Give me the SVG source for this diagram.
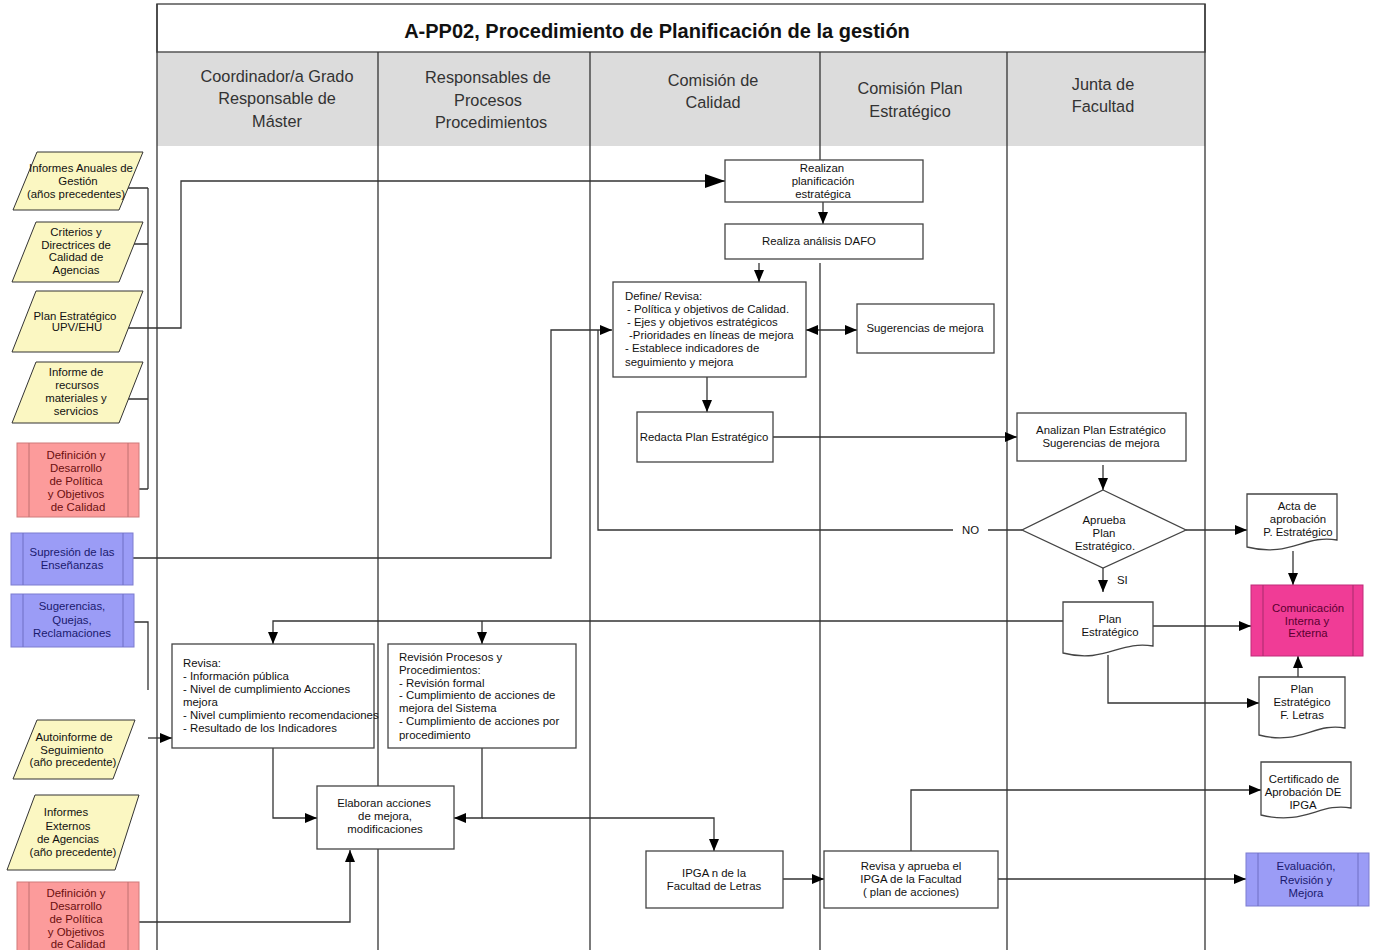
<svg xmlns="http://www.w3.org/2000/svg" width="1376" height="950" viewBox="0 0 1376 950">
  <style>
    .ln { fill: none; stroke: #333; stroke-width: 1.3; }
    .ar { fill: none; stroke: #333; stroke-width: 1.3; marker-end: url(#ah); }
    .box { fill: #fff; stroke: #444; stroke-width: 1.3; }
    .inp { fill: #fbf7c2; stroke: #333; stroke-width: 1; }
    .red { fill: #fc9b9b; stroke: #d07a7a; stroke-width: 1; }
    .blue { fill: #9b9cf6; stroke: #7c7ccf; stroke-width: 1; }
    .mag { fill: #f03c96; stroke: #c02a78; stroke-width: 1; }
    .sub { stroke-width: 1; fill: none; }
    text { font-family: "Liberation Sans", Arial, sans-serif; font-size: 11.4px; fill: #111; }
    .c { text-anchor: middle; }
    .hd { font-size: 16.3px; fill: #333; text-anchor: middle; }
    .title { font-size: 20px; font-weight: bold; fill: #111; text-anchor: middle; }
    .tr { fill: #6b0f0f; }
    .tb { fill: #1a1a6e; }
    .tm { fill: #5a0030; }
  </style>
  <defs>
    <marker id="ah" markerUnits="userSpaceOnUse" markerWidth="13" markerHeight="11" refX="12" refY="5" orient="auto-start-reverse">
      <path d="M0,0 L12,5 L0,10 z" fill="#000"/>
    </marker>
    <marker id="ahl" markerUnits="userSpaceOnUse" markerWidth="21" markerHeight="15" refX="20" refY="7" orient="auto">
      <path d="M0,0 L20,7 L0,14 z" fill="#000"/>
    </marker>
  </defs>

  <rect width="1376" height="950" fill="#fff"/>

  <!-- swimlane frame -->
  <g id="lanes">
    <rect x="157" y="52" width="1048" height="94" fill="#dcdcdc"/>
    <rect x="157" y="4" width="1048" height="48" fill="#fff" stroke="#555" stroke-width="1.5"/>
    <text class="title" x="657" y="38">A-PP02, Procedimiento de Planificación de la gestión</text>
    <g class="ln" stroke="#444">
      <line x1="157" y1="4" x2="157" y2="950"/>
      <line x1="1205" y1="4" x2="1205" y2="950"/>
      <line x1="378" y1="52" x2="378" y2="950"/>
      <line x1="590" y1="52" x2="590" y2="950"/>
      <line x1="820" y1="52" x2="820" y2="160"/>
      <line x1="820" y1="263" x2="820" y2="950"/>
      <line x1="1007" y1="52" x2="1007" y2="950"/>
    </g>
    <text class="hd" x="277" y="82">Coordinador/a Grado</text>
    <text class="hd" x="277" y="104">Responsable de</text>
    <text class="hd" x="277" y="127">Máster</text>
    <text class="hd" x="488" y="83">Responsables de</text>
    <text class="hd" x="488" y="106">Procesos</text>
    <text class="hd" x="491" y="128">Procedimientos</text>
    <text class="hd" x="713" y="86">Comisión de</text>
    <text class="hd" x="713" y="108">Calidad</text>
    <text class="hd" x="910" y="94">Comisión Plan</text>
    <text class="hd" x="910" y="117">Estratégico</text>
    <text class="hd" x="1103" y="90">Junta de</text>
    <text class="hd" x="1103" y="112">Facultad</text>
  </g>

  <!-- connectors -->
  <g id="connectors">
    <path class="ln" d="M128,188 H148 M134,244 H148 M128,399 H148 M139,489 H148 M148,188 V489"/>
    <path class="ln" d="M128,328 H181 V181 H725" marker-end="url(#ahl)"/>
    <path class="ar" d="M133,558 H551 V330 H612"/>
    <path class="ln" d="M1022,530 H988 M953,530 H598 V330"/>
    <path class="ln" d="M134,622 H148 V690"/>
    <path class="ar" d="M148,738 H172"/>
    <path class="ar" d="M139,922 H350 V850"/>
    <path class="ar" d="M823,202 V224"/>
    <path class="ar" d="M759,263 V282"/>
    <path class="ar" d="M806,330 H857" marker-start="url(#ah)"/>
    <path class="ar" d="M707,377 V412"/>
    <path class="ar" d="M773,437 H1017"/>
    <path class="ar" d="M1103,465 V490"/>
    <path class="ar" d="M1103,568 V592"/>
    <path class="ar" d="M1186,530 H1247"/>
    <path class="ar" d="M1293,551 V585"/>
    <path class="ar" d="M1153,626 H1251"/>
    <path class="ar" d="M1063,621 H273 V644"/>
    <path class="ar" d="M482,621 V644"/>
    <path class="ar" d="M1108,655 V703 H1259"/>
    <path class="ar" d="M1298,677 V656"/>
    <path class="ar" d="M273,748 V818 H317"/>
    <path class="ar" d="M482,748 V818 H454"/>
    <path class="ar" d="M482,818 H714 V851"/>
    <path class="ar" d="M783,879 H824"/>
    <path class="ar" d="M911,851 V790 H1261"/>
    <path class="ar" d="M998,879 H1246"/>
    <text x="962" y="534">NO</text>
    <text x="1117" y="584">SI</text>
  </g>

  <!-- inputs (left column) -->
  <g id="in-informes-anuales">
    <polygon class="inp" points="37,152 143,152 119,210 13,210"/>
    <text class="c" x="81" y="172">Informes Anuales de</text>
    <text class="c" x="78" y="185">Gestión</text>
    <text class="c" x="76" y="198">(años precedentes)</text>
  </g>
  <g id="in-criterios">
    <polygon class="inp" points="36,222 143,222 119,282 12,282"/>
    <text class="c" x="76" y="236">Criterios y</text>
    <text class="c" x="76" y="249">Directrices de</text>
    <text class="c" x="76" y="261">Calidad de</text>
    <text class="c" x="76" y="274">Agencias</text>
  </g>
  <g id="in-plan-upv">
    <polygon class="inp" points="36,291 143,291 119,352 12,352"/>
    <text class="c" x="75" y="320">Plan Estratégico</text>
    <text class="c" x="77" y="331">UPV/EHU</text>
  </g>
  <g id="in-recursos">
    <polygon class="inp" points="36,362 143,362 119,423 12,423"/>
    <text class="c" x="76" y="376">Informe de</text>
    <text class="c" x="77" y="389">recursos</text>
    <text class="c" x="76" y="402">materiales y</text>
    <text class="c" x="76" y="415">servicios</text>
  </g>
  <g id="in-definicion-1">
    <rect class="red" x="17" y="443" width="122" height="74"/>
    <path class="sub" stroke="#c07070" d="M29,443 V517 M128,443 V517"/>
    <text class="c tr" x="76" y="459">Definición y</text>
    <text class="c tr" x="76" y="472">Desarrollo</text>
    <text class="c tr" x="76" y="485">de Política</text>
    <text class="c tr" x="76" y="498">y Objetivos</text>
    <text class="c tr" x="78" y="511">de Calidad</text>
  </g>
  <g id="in-supresion">
    <rect class="blue" x="11" y="533" width="122" height="52"/>
    <path class="sub" stroke="#6f6fc4" d="M23,533 V585 M123,533 V585"/>
    <text class="c tb" x="72" y="556">Supresión de las</text>
    <text class="c tb" x="72" y="569">Enseñanzas</text>
  </g>
  <g id="in-sugerencias">
    <rect class="blue" x="11" y="594" width="123" height="53"/>
    <path class="sub" stroke="#6f6fc4" d="M23,594 V647 M123,594 V647"/>
    <text class="c tb" x="72" y="610">Sugerencias,</text>
    <text class="c tb" x="72" y="624">Quejas,</text>
    <text class="c tb" x="72" y="637">Reclamaciones</text>
  </g>
  <g id="in-autoinforme">
    <polygon class="inp" points="37,720 135,720 113,779 13,779"/>
    <text class="c" x="74" y="741">Autoinforme de</text>
    <text class="c" x="72" y="754">Seguimiento</text>
    <text class="c" x="73" y="766">(año precedente)</text>
  </g>
  <g id="in-externos">
    <polygon class="inp" points="35,795 139,795 115,870 7,870"/>
    <text class="c" x="66" y="816">Informes</text>
    <text class="c" x="68" y="830">Externos</text>
    <text class="c" x="68" y="843">de Agencias</text>
    <text class="c" x="73" y="856">(año precedente)</text>
  </g>
  <g id="in-definicion-2">
    <rect class="red" x="17" y="882" width="122" height="72"/>
    <path class="sub" stroke="#c07070" d="M29,882 V950 M128,882 V950"/>
    <text class="c tr" x="76" y="897">Definición y</text>
    <text class="c tr" x="76" y="910">Desarrollo</text>
    <text class="c tr" x="76" y="923">de Política</text>
    <text class="c tr" x="76" y="936">y Objetivos</text>
    <text class="c tr" x="78" y="948">de Calidad</text>
  </g>

  <!-- process nodes -->
  <g id="n-realizan">
    <rect class="box" x="725" y="160" width="198" height="42"/>
    <text class="c" x="822" y="172">Realizan</text>
    <text class="c" x="823" y="185">planificación</text>
    <text class="c" x="823" y="198">estratégica</text>
  </g>
  <g id="n-dafo">
    <rect class="box" x="725" y="224" width="198" height="35"/>
    <text class="c" x="819" y="245">Realiza análisis DAFO</text>
  </g>
  <g id="n-define">
    <rect class="box" x="613" y="282" width="193" height="95"/>
    <text x="625" y="300">Define/ Revisa:</text>
    <text x="627" y="313"> - Política y  objetivos de  Calidad.</text>
    <text x="627" y="326"> - Ejes y objetivos estratégicos</text>
    <text x="629" y="339">-Prioridades en líneas de mejora</text>
    <text x="625" y="352">- Establece  indicadores de</text>
    <text x="625" y="366">seguimiento  y mejora</text>
  </g>
  <g id="n-sugerencias-mejora">
    <rect class="box" x="857" y="304" width="137" height="49"/>
    <text class="c" x="925" y="332">Sugerencias de mejora</text>
  </g>
  <g id="n-redacta">
    <rect class="box" x="637" y="412" width="136" height="50"/>
    <text class="c" x="704" y="441">Redacta Plan Estratégico</text>
  </g>
  <g id="n-analizan">
    <rect class="box" x="1017" y="413" width="169" height="48"/>
    <text class="c" x="1101" y="434">Analizan Plan Estratégico</text>
    <text class="c" x="1101" y="447">Sugerencias de mejora</text>
  </g>
  <g id="n-aprueba">
    <polygon class="box" points="1103,490 1186,530 1103,568 1022,530"/>
    <text class="c" x="1104" y="524">Aprueba</text>
    <text class="c" x="1104" y="537">Plan</text>
    <text class="c" x="1105" y="550">Estratégico.</text>
  </g>
  <g id="n-acta">
    <path class="box" d="M1247,494 H1337 V540 C1305,534 1290,558 1247,547 Z"/>
    <text class="c" x="1297" y="510">Acta de</text>
    <text class="c" x="1298" y="523">aprobación</text>
    <text class="c" x="1298" y="536">P. Estratégico</text>
  </g>
  <g id="n-comunicacion">
    <rect class="mag" x="1251" y="585" width="112" height="71"/>
    <path class="sub" stroke="#a82a6c" d="M1263,585 V656 M1353,585 V656"/>
    <text class="c tm" x="1308" y="612">Comunicación</text>
    <text class="c tm" x="1307" y="625">Interna y</text>
    <text class="c tm" x="1308" y="637">Externa</text>
  </g>
  <g id="n-plan">
    <path class="box" d="M1063,602 H1153 V646 C1120,640 1105,664 1063,653 Z"/>
    <text class="c" x="1110" y="623">Plan</text>
    <text class="c" x="1110" y="636">Estratégico</text>
  </g>
  <g id="n-plan-letras">
    <path class="box" d="M1259,677 H1345 V728 C1315,722 1300,746 1259,735 Z"/>
    <text class="c" x="1302" y="693">Plan</text>
    <text class="c" x="1302" y="706">Estratégico</text>
    <text class="c" x="1302" y="719">F. Letras</text>
  </g>
  <g id="n-revisa">
    <rect class="box" x="172" y="644" width="202" height="104"/>
    <text x="183" y="667">Revisa:</text>
    <text x="183" y="680">- Información pública</text>
    <text x="183" y="693">-  Nivel de cumplimiento  Acciones</text>
    <text x="183" y="706">mejora</text>
    <text x="183" y="719">- Nivel cumplimiento recomendaciones</text>
    <text x="183" y="732">- Resultado de los Indicadores</text>
  </g>
  <g id="n-revision">
    <rect class="box" x="388" y="644" width="188" height="104"/>
    <text x="399" y="661">Revisión  Procesos y</text>
    <text x="399" y="674">Procedimientos:</text>
    <text x="399" y="687">- Revisión formal</text>
    <text x="399" y="699">- Cumplimiento de acciones de</text>
    <text x="399" y="712">mejora del  Sistema</text>
    <text x="399" y="725">- Cumplimiento de acciones por</text>
    <text x="399" y="739">procedimiento</text>
  </g>
  <g id="n-elaboran">
    <rect class="box" x="317" y="786" width="137" height="63"/>
    <text class="c" x="384" y="807">Elaboran acciones</text>
    <text class="c" x="385" y="820">de mejora,</text>
    <text class="c" x="385" y="833">modificaciones</text>
  </g>
  <g id="n-ipga">
    <rect class="box" x="646" y="851" width="137" height="57"/>
    <text class="c" x="714" y="877">IPGA n de la</text>
    <text class="c" x="714" y="890">Facultad de Letras</text>
  </g>
  <g id="n-revisa-aprueba">
    <rect class="box" x="824" y="851" width="174" height="57"/>
    <text class="c" x="911" y="870">Revisa y aprueba el</text>
    <text class="c" x="911" y="883">IPGA de la Facultad</text>
    <text class="c" x="911" y="896">( plan de acciones)</text>
  </g>
  <g id="n-certificado">
    <path class="box" d="M1261,762 H1351 V808 C1320,802 1305,826 1261,815 Z"/>
    <text class="c" x="1304" y="783">Certificado de</text>
    <text class="c" x="1303" y="796">Aprobación DE</text>
    <text class="c" x="1303" y="809">IPGA</text>
  </g>
  <g id="n-evaluacion">
    <rect class="blue" x="1246" y="853" width="123" height="53"/>
    <path class="sub" stroke="#6f6fc4" d="M1258,853 V906 M1358,853 V906"/>
    <text class="c tb" x="1306" y="870">Evaluación,</text>
    <text class="c tb" x="1306" y="884">Revisión y</text>
    <text class="c tb" x="1306" y="897">Mejora</text>
  </g>
</svg>
